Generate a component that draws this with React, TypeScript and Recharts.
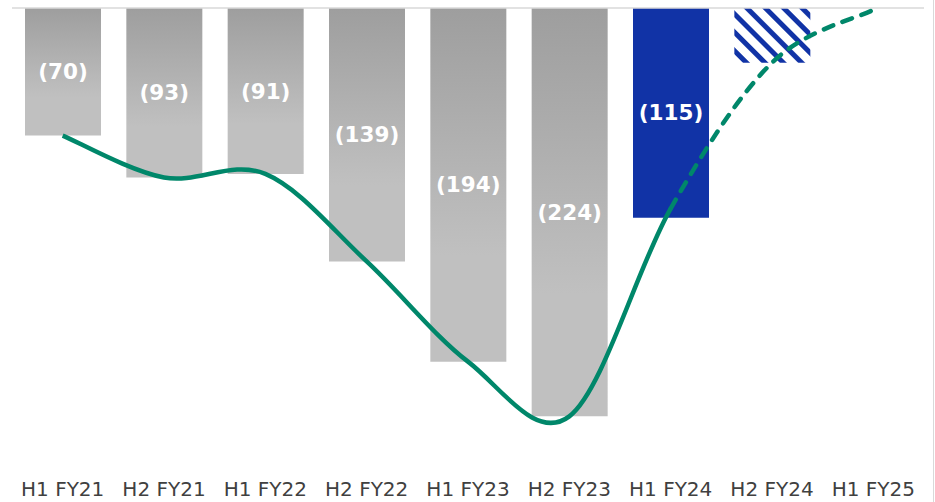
import React from 'react'
import { ComposedChart, Bar, Line, XAxis, YAxis, Cell, LabelList, ReferenceLine } from 'recharts'

document.body.style.margin = '0'

const periods = ['H1 FY21', 'H2 FY21', 'H1 FY22', 'H2 FY22', 'H1 FY23', 'H2 FY23', 'H1 FY24', 'H2 FY24', 'H1 FY25']
const barValues = [-70, -93, -91, -139, -194, -224, -115, -30, null]
const lineValues = [-70, -93, -91, -139, -194, -224, -110, -30, -1]
// bar fill per period: actuals, latest actual, outlook, none
const barKinds = ['actual', 'actual', 'actual', 'actual', 'actual', 'actual', 'current', 'outlook', 'none']
const forecastFrom = 6

const GREEN = '#00876a'
const BLUE = '#1133a6'

const data = periods.map((p, i) => ({
  period: p,
  bar: barValues[i],
  line: lineValues[i],
  label: barKinds[i] === 'actual' || barKinds[i] === 'current' ? `(${Math.abs(barValues[i] as number)})` : '',
}))

// catmull-rom smoothing (like excel's smoothed line), drawing only segments [from, to]
function smoothPart(from: number, to: number) {
  return (context: any) => {
    let pts: number[][] = []
    return {
      areaStart() {},
      areaEnd() {},
      lineStart() {
        pts = []
      },
      point(x: number, y: number) {
        pts.push([+x, +y])
      },
      lineEnd() {
        const n = pts.length
        const end = Math.min(to, n - 1)
        if (end <= from) return
        context.moveTo(pts[from][0], pts[from][1])
        for (let i = from; i < end; i++) {
          const p0 = pts[Math.max(i - 1, 0)]
          const p1 = pts[i]
          const p2 = pts[i + 1]
          const p3 = pts[Math.min(i + 2, n - 1)]
          context.bezierCurveTo(
            p1[0] + (p2[0] - p0[0]) / 6,
            p1[1] + (p2[1] - p0[1]) / 6,
            p2[0] - (p3[0] - p1[0]) / 6,
            p2[1] - (p3[1] - p1[1]) / 6,
            p2[0],
            p2[1]
          )
        }
      },
    }
  }
}

const fillFor = (kind: string) => {
  if (kind === 'actual') return 'url(#grayGrad)'
  if (kind === 'current') return BLUE
  if (kind === 'outlook') return 'url(#hatch)'
  return 'none'
}

export default function App() {
  return (
    <div style={{ width: 935, height: 502, position: 'relative', background: '#fff' }}>
      <ComposedChart
        width={935}
        height={502}
        data={data}
        margin={{ top: 8, right: 11, left: 12, bottom: 0 }}
      >
        <defs>
          <linearGradient id="grayGrad" x1="0" y1="0" x2="0" y2="1">
            <stop offset="0" stopColor="#9e9e9e" />
            <stop offset="0.7" stopColor="#c0c0c0" />
            <stop offset="1" stopColor="#c0c0c0" />
          </linearGradient>
          <pattern id="hatch" width="13" height="13" patternUnits="userSpaceOnUse" patternTransform="rotate(-45)">
            <rect width="13" height="13" fill="#fff" />
            <rect width="5" height="13" fill={BLUE} />
          </pattern>
        </defs>
        <XAxis
          dataKey="period"
          axisLine={false}
          tickLine={false}
          height={56.5}
          tickMargin={30}
          interval={0}
          tick={{ fontSize: 20, fill: '#404040', fontFamily: 'DejaVu Sans' }}
        />
        <YAxis hide domain={[-240, 0]} />
        <Bar dataKey="bar" barSize={76} isAnimationActive={false}>
          {data.map((d, i) => (
            <Cell key={d.period} fill={fillFor(barKinds[i])} />
          ))}
          <LabelList
            dataKey="label"
            position="center"
            fill="#fff"
            fontSize={21.5}
            fontWeight="bold"
            fontFamily="DejaVu Sans"
          />
        </Bar>
        <ReferenceLine y={0} stroke="#d9d9d9" strokeWidth={1.5} />
        <Line
          dataKey="line"
          type={smoothPart(0, forecastFrom) as any}
          stroke={GREEN}
          strokeWidth={4.5}
          dot={false}
          activeDot={false}
          isAnimationActive={false}
        />
        <Line
          dataKey="line"
          type={smoothPart(forecastFrom, periods.length - 1) as any}
          stroke={GREEN}
          strokeWidth={4.5}
          strokeDasharray="10 10"
          strokeLinecap="round"
          dot={false}
          activeDot={false}
          isAnimationActive={false}
        />
      </ComposedChart>
      <div style={{ position: 'absolute', left: 933, top: 0, width: 1, height: 502, background: '#d9d9d9' }} />
    </div>
  )
}
